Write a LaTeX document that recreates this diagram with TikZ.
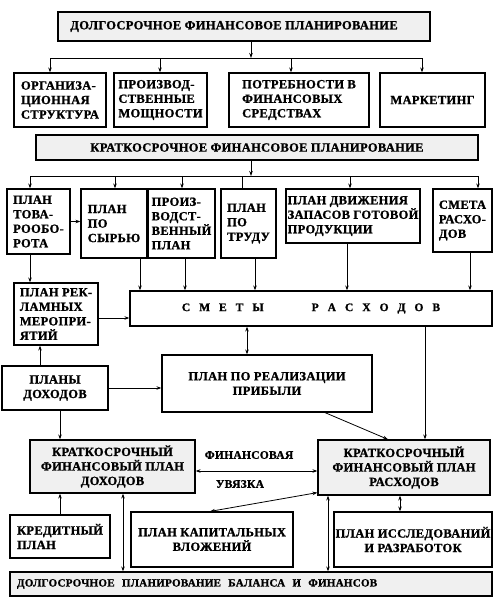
\documentclass[tikz,border=0pt]{standalone}
\usepackage{fontspec}
\setmainfont{Liberation Serif}[LetterSpace=2.5, BoldFeatures={FakeBold=1.2}]
\usetikzlibrary{arrows.meta}
\newcommand{\gp}{\hspace{9pt}}

\begin{document}
\begin{tikzpicture}[x=1pt, y=-1pt,
  font=\fontsize{12.5}{14.5}\selectfont\bfseries,
  blk/.style={rectangle, draw, line width=1.2pt, inner sep=1pt, align=left},
  grayblk/.style={blk, fill=gray!12, align=center},
  tip/.tip={Stealth[length=5pt, width=3.5pt]},
  arr/.style={line width=0.8pt, -tip},
  darr/.style={line width=0.8pt, tip-tip}]
  \useasboundingbox (0,0) rectangle (493,598);

  % long-term level
  \node[grayblk, minimum width=372pt, minimum height=29pt] (ltp) at (244,26.5) {ДОЛГОСРОЧНОЕ ФИНАНСОВОЕ ПЛАНИРОВАНИЕ\hspace{20pt}};
  \node[blk, minimum width=92pt, minimum height=54pt] (org) at (60,100) {ОРГАНИЗА-\\ЦИОННАЯ\\СТРУКТУРА};
  \node[blk, minimum width=93pt, minimum height=54pt] (prm) at (160.5,100) {ПРОИЗВОД-\\СТВЕННЫЕ\\МОЩНОСТИ};
  \node[blk, minimum width=140pt, minimum height=54pt] (ptr) at (299,100) {ПОТРЕБНОСТИ В\\ФИНАНСОВЫХ\\СРЕДСТВАХ};
  \node[blk, minimum width=105pt, minimum height=54pt] (mkt) at (432.5,100) {МАРКЕТИНГ};

  % short-term level
  \node[grayblk, minimum width=442pt, minimum height=25pt] (stp) at (257,147.5) {КРАТКОСРОЧНОЕ ФИНАНСОВОЕ ПЛАНИРОВАНИЕ};
  \node[blk, minimum width=63pt, minimum height=65pt] (tov) at (38.5,221.5) {ПЛАН\\ТОВА-\\РООБО-\\РОТА};
  \node[blk, minimum width=66pt, minimum height=69pt] (syr) at (114,223.5) {ПЛАН\\ПО\\СЫРЬЮ};
  \node[blk, minimum width=67pt, minimum height=69pt] (prz) at (181.5,223.5) {ПРОИЗ-\\ВОДСТ-\\ВЕННЫЙ\\ПЛАН};
  \node[blk, minimum width=55pt, minimum height=69pt] (trd) at (248.5,223.5) {ПЛАН\\ПО\\ТРУДУ};
  \node[blk, minimum width=134pt, minimum height=54pt] (dvz) at (353,216) {ПЛАН ДВИЖЕНИЯ\\ЗАПАСОВ ГОТОВОЙ\\ ПРОДУКЦИИ};
  \node[blk, minimum width=59pt, minimum height=63pt] (smr) at (462.5,220.5) {СМЕТА\\РАСХО-\\ДОВ};

  \node[blk, minimum width=84pt, minimum height=62pt] (rek) at (56,314) {ПЛАН РЕК-\\ЛАМНЫХ\\МЕРОПРИ-\\ЯТИЙ};
  \node[blk, minimum width=362pt, minimum height=35pt, font=\fontsize{11.5}{13}\selectfont\bfseries] (smt) at (311,308.5) {С\gp М\gp Е\gp Т\gp Ы\hspace{48pt}Р\gp А\gp С\gp Х\gp О\gp Д\gp О\gp В};
  \node[blk, minimum width=106pt, minimum height=44pt, align=center] (doh) at (55,388) {ПЛАНЫ\\ДОХОДОВ};
  \node[blk, minimum width=210pt, minimum height=57pt, align=center] (rea) at (267,383.5) {ПЛАН ПО РЕАЛИЗАЦИИ\\ПРИБЫЛИ};

  \node[grayblk, minimum width=165pt, minimum height=53pt] (kfd) at (112.5,466.5) {КРАТКОСРОЧНЫЙ\\ФИНАНСОВЫЙ ПЛАН\\ДОХОДОВ};
  \node[grayblk, minimum width=172pt, minimum height=55pt] (kfr) at (404,467.5) {КРАТКОСРОЧНЫЙ\\ФИНАНСОВЫЙ ПЛАН\\РАСХОДОВ};
  \node[blk, minimum width=100pt, minimum height=43pt] (kre) at (60,536.5) {КРЕДИТНЫЙ\\ ПЛАН};
  \node[blk, minimum width=162pt, minimum height=55pt, align=center] (kap) at (212,539.5) {ПЛАН КАПИТАЛЬНЫХ\\ВЛОЖЕНИЙ};
  \node[blk, minimum width=158pt, minimum height=55pt, align=center] (isl) at (413,539.5) {ПЛАН ИССЛЕДОВАНИЙ\\И РАЗРАБОТОК};
  \node[blk, fill=gray!12, minimum width=482pt, minimum height=24pt, text width=468pt, font=\fontsize{11}{13}\selectfont\bfseries] (bal) at (251,584) {ДОЛГОСРОЧНОЕ\ \ ПЛАНИРОВАНИЕ\ \ БАЛАНСА\ \ И\ \ ФИНАНСОВ};

  % connectors
  \coordinate (b1) at (251,58);
  \coordinate (b2) at (251,176);
  \draw[arr] (b1 |- ltp.south) -- (b1);
  \draw[line width=0.8pt] (50,0 |- b1) -- (422,0 |- b1);
  \foreach \x/\n in {50/org,160/prm,291/ptr,422/mkt}
    \draw[arr] (\x,0 |- b1) -- (\x,0 |- \n.north);
  \draw[arr] (b2 |- stp.south) -- (b2);
  \draw[line width=0.8pt] (30,0 |- b2) -- (478,0 |- b2);
  \foreach \x/\n in {30/tov,115/syr,182/prz,350/dvz,478/smr}
    \draw[arr] (\x,0 |- b2) -- (\x,0 |- \n.north);
  \draw[line width=0.8pt] (242,0 |- b2) -- (242,0 |- trd.north);
  \draw[arr] (tov.east) -- (tov.east -| syr.west);
  \foreach \x/\n in {140/syr,185/prz,255/trd,347/dvz,470/smr}
    \draw[arr] (\x,0 |- \n.south) -- (\x,0 |- smt.north);
  \draw[arr] (30,0 |- tov.south) -- (30,0 |- rek.north);
  \draw[arr] ([yshift=-4pt]rek.east) -- ([yshift=-4pt]rek.east -| smt.west);
  \draw[arr] (40,0 |- doh.north) -- (40,0 |- rek.south);
  \draw[arr] (doh.east) -- (doh.east -| rea.west);
  \draw[darr] (247,0 |- smt.south) -- (247,0 |- rea.north);
  \draw[arr] (325,0 |- rea.south) -- (388,0 |- kfr.north);
  \draw[arr] (425,0 |- smt.south) -- (425,0 |- kfr.north);
  \draw[arr] (60,0 |- doh.south) -- (60,0 |- kfd.north);
  \draw[darr] (kfd.east |- 0,471) -- (kfr.west |- 0,471);
  \node[font=\fontsize{11.5}{13}\selectfont\bfseries] (fin) at (249,455) {ФИНАНСОВАЯ};
  \node[font=\fontsize{11.5}{13}\selectfont\bfseries] (uvz) at (240,484) {УВЯЗКА};
  \draw[arr] (60,0 |- kre.north) -- (60,0 |- kfd.south);
  \draw[darr] (123,0 |- kfd.south) -- (123,0 |- bal.north);
  \draw[darr] (210,0 |- kap.north) -- ([yshift=3pt]kfr.south west);
  \draw[darr] (328,0 |- kfr.south) -- (328,0 |- bal.north);
  \draw[darr] (400,0 |- kfr.south) -- (400,0 |- isl.north);
\end{tikzpicture}
\end{document}
